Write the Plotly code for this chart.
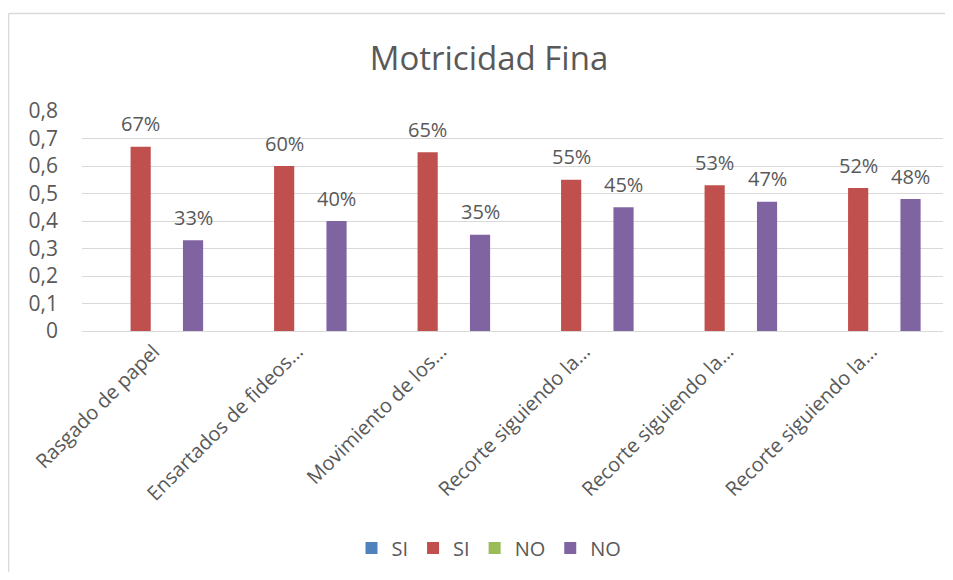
import plotly.graph_objects as go

categories = ["Rasgado de papel", "Ensartados de fideos…", "Movimiento de los…",
              "Recorte siguiendo la…", "Recorte siguiendo la…", "Recorte siguiendo la…"]
si_blue = [None] * 6
si_red = [0.67, 0.60, 0.65, 0.55, 0.53, 0.52]
no_green = [None] * 6
no_purple = [0.33, 0.40, 0.35, 0.45, 0.47, 0.48]
y_ticks = [0, 0.1, 0.2, 0.3, 0.4, 0.5, 0.6, 0.7, 0.8]

FONT = "Open Sans"
GREY = "#595959"
OFF = 8  # page body margin
W, H = 953 - 2 * OFF, 580 - 2 * OFF
L = 82 - OFF
R = W - (943 - OFF)
T = 111 - OFF
B = H - (331 - OFF)
BARGAP = 0.27
GROUPGAP = 0.23

xs = list(range(len(categories)))
fig = go.Figure()
series = [("SI", si_blue, "#4f81bd"), ("SI", si_red, "#c0504d"),
          ("NO", no_green, "#9bbb59"), ("NO", no_purple, "#8064a2")]
for name, vals, col in series:
    fig.add_trace(go.Bar(x=xs, y=vals, name=name, marker_color=col,
                         marker_line_width=0))

slot = (1 - BARGAP) / 4
for idx, vals in ((1, si_red), (3, no_purple)):
    off = (idx - 1.5) * slot
    for i, v in enumerate(vals):
        fig.add_annotation(x=i + off, y=v, text=f"{round(v*100)}%", showarrow=False,
                           yshift=23, yanchor="middle",
                           font=dict(family=FONT, size=20, color=GREY))

pw = W - L - R
ph = H - T - B
lx = (8.5 - OFF - L) / pw
ty = (ph + T - (13.5 - OFF)) / ph
line = dict(color="#d9d9d9", width=1.5)
fig.add_shape(type="line", xref="paper", yref="paper", x0=lx, x1=lx, y0=-2, y1=ty, line=line)
fig.add_shape(type="line", xref="paper", yref="paper", x0=lx, x1=1.2, y0=ty, y1=ty, line=line)

fig.update_layout(
    width=W, height=H,
    margin=dict(l=L, r=R, t=T, b=B, autoexpand=False),
    paper_bgcolor="white", plot_bgcolor="white",
    separators=", ",
    barmode="group", bargap=BARGAP, bargroupgap=GROUPGAP,
    title=dict(text="Motricidad Fina", x=(489 - OFF) / W, xanchor="center", xref="container",
               y=1 - (58 - OFF) / H, yanchor="middle", yref="container",
               font=dict(family=FONT, size=33, color=GREY)),
    font=dict(family=FONT, size=19, color=GREY),
    xaxis=dict(tickmode="array", tickvals=xs, ticktext=categories, tickangle=-45,
               range=[-0.5, len(categories) - 0.5], showgrid=False, zeroline=False,
               showline=True, linecolor="#d9d9d9", linewidth=1, ticks="",
               tickfont=dict(family=FONT, size=20, color=GREY)),
    yaxis=dict(range=[0, 0.8], tickvals=y_ticks, showgrid=True, gridcolor="#d9d9d9",
               gridwidth=1, zeroline=False, showline=False, ticks="",
               ticklabelstandoff=23,
               tickfont=dict(family=FONT, size=21, color=GREY)),
    legend=dict(orientation="h", xref="container", yref="container",
                x=(489 - OFF) / W, xanchor="center", y=1 - (548 - OFF) / H, yanchor="middle",
                font=dict(family=FONT, size=20, color=GREY), itemwidth=30,
                traceorder="normal"),
    showlegend=True,
)
fig.write_html("out.html")
